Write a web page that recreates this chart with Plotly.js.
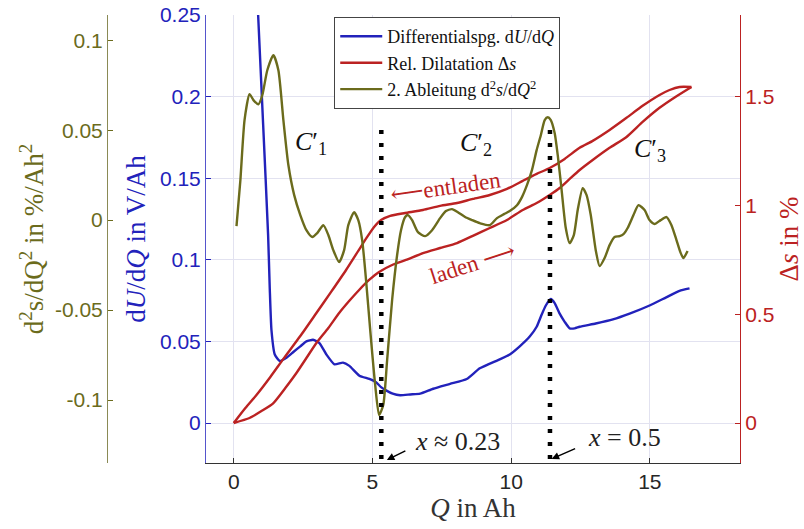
<!DOCTYPE html>
<html><head><meta charset="utf-8">
<script src="https://cdn.plot.ly/plotly-3.0.1.min.js"></script>
<style>html,body{margin:0;padding:0;background:#fff}</style>
</head><body><div id="chart" style="width:804px;height:529px"></div>
<script>
// Differentialspannung dU/dQ (V/Ah)
const Q_dUdQ = [0.70,0.88,1.06,1.24,1.30,1.36,1.48,1.66,1.90,2.15,2.40,2.62,2.86,3.09,3.34,3.63,3.94,4.17,4.53,4.89,5.13,5.31,5.49,5.73,6.00,6.36,6.72,7.19,7.80,8.40,8.87,9.59,9.95,10.31,10.67,10.92,11.09,11.25,11.43,11.57,11.75,11.93,12.11,12.29,12.47,13.05,13.67,14.27,14.99,15.59,16.07,16.43];
const dUdQ = [0.316,0.250,0.183,0.115,0.082,0.057,0.042,0.038,0.040,0.0435,0.047,0.050,0.051,0.049,0.042,0.036,0.037,0.035,0.029,0.027,0.025,0.022,0.020,0.018,0.017,0.0175,0.018,0.021,0.024,0.027,0.0335,0.039,0.042,0.047,0.053,0.059,0.066,0.072,0.076,0.0735,0.067,0.062,0.058,0.058,0.059,0.061,0.0635,0.067,0.072,0.077,0.081,0.0825];

// Rel. Dilatation Δs (%) – laden (charge) and entladen (discharge)
const Q_laden = [0,0.57,1.00,1.43,1.86,2.26,2.62,2.98,3.41,3.80,4.16,4.52,4.88,5.24,5.71,6.21,6.82,7.44,8.05,8.62,9.23,9.85,10.42,10.92,11.39,11.75,12.11,12.47,12.94,13.55,14.16,14.74,15.35,15.92,16.50];
const s_laden = [0,0.023,0.055,0.092,0.161,0.230,0.299,0.368,0.437,0.506,0.561,0.612,0.658,0.695,0.727,0.750,0.782,0.805,0.828,0.861,0.897,0.934,0.980,1.012,1.049,1.081,1.123,1.164,1.210,1.266,1.316,1.385,1.450,1.500,1.546];
const Q_entladen = [0,0.42,0.82,1.32,1.79,2.40,2.98,3.51,4.05,4.49,4.81,5.06,5.31,5.64,6.18,6.82,7.44,8.05,8.62,9.23,9.85,10.42,10.92,11.39,11.93,12.47,12.94,13.55,14.16,14.74,15.35,15.71,16.07,16.50];
const s_entladen = [0,0.069,0.129,0.212,0.295,0.400,0.506,0.603,0.704,0.792,0.856,0.902,0.934,0.953,0.966,0.980,0.999,1.012,1.031,1.049,1.077,1.114,1.146,1.173,1.215,1.266,1.298,1.348,1.404,1.459,1.509,1.532,1.546,1.546];

// 2. Ableitung d2s/dQ2 (%/Ah^2)
const Q_d2s = [0.10,0.24,0.39,0.57,0.71,0.89,1.03,1.21,1.43,1.61,1.79,1.97,2.18,2.40,2.62,2.83,3.01,3.23,3.41,3.59,3.80,3.98,4.13,4.34,4.49,4.63,4.77,4.92,5.10,5.24,5.39,5.53,5.71,5.89,6.03,6.18,6.28,6.43,6.64,6.90,7.15,7.44,7.65,7.87,8.08,8.34,8.59,8.87,9.23,9.49,9.74,9.95,10.21,10.39,10.57,10.75,10.92,11.07,11.21,11.32,11.43,11.57,11.68,11.82,11.97,12.11,12.26,12.40,12.58,12.72,12.87,13.05,13.19,13.37,13.55,13.73,13.91,14.05,14.20,14.41,14.59,14.81,14.99,15.17,15.39,15.60,15.78,15.96,16.10,16.21,16.36];
const d2s = [-0.0033,0.0222,0.0556,0.0700,0.0667,0.0644,0.0694,0.0833,0.0917,0.0833,0.0556,0.0306,0.0139,0.0028,-0.0056,-0.0094,-0.0072,-0.0028,-0.0083,-0.0167,-0.0233,-0.0167,-0.0028,0.0044,0.0000,-0.0111,-0.0333,-0.0611,-0.0917,-0.1083,-0.1028,-0.0778,-0.0444,-0.0194,-0.0056,0.0017,0.0028,0.0000,-0.0067,-0.0089,-0.0056,0.0011,0.0050,0.0061,0.0044,0.0017,0.0000,-0.0017,-0.0028,0.0011,0.0033,0.0050,0.0083,0.0128,0.0194,0.0278,0.0389,0.0472,0.0556,0.0572,0.0556,0.0483,0.0361,0.0167,-0.0044,-0.0128,-0.0083,0.0056,0.0178,0.0139,0.0028,-0.0167,-0.0256,-0.0211,-0.0139,-0.0094,-0.0089,-0.0078,-0.0044,0.0028,0.0083,0.0056,0.0000,-0.0022,0.0000,0.0017,-0.0028,-0.0111,-0.0178,-0.0211,-0.0172];

// marked states of charge
const markQ = [5.32, 11.40];
const markLabels = ['<i>x</i> ≈ 0.23', '<i>x</i> = 0.5'];

// tick labels
const xTicks = [0, 5, 10, 15];
const blueTicks = [0, 0.05, 0.1, 0.15, 0.2, 0.25];
const blueTickText = ['0','0.05','0.1','0.15','0.2','0.25'];
const redTicks = [0, 0.5, 1, 1.5];
const redTickText = ['0','0.5','1','1.5'];
const oliveTicks = [-0.1, -0.05, 0, 0.05, 0.1];
const oliveTickText = ['-0.1','-0.05','0','0.05','0.1'];

const BLUE = '#2222bb', RED = '#bb2222', OLIVE = '#6b6b1c', GRID = '#e2e2f0';
const SERIF = 'Liberation Serif, DejaVu Serif, Times New Roman, serif';
const SANS = 'Liberation Sans, Arial, sans-serif';

const traces = [
  {x: Q_dUdQ, y: dUdQ, type: 'scatter', mode: 'lines', yaxis: 'y',
   name: 'Differentialspg. d<i>U</i>/d<i>Q</i>', line: {color: BLUE, width: 2.4, shape: 'spline', smoothing: 0.5}, hoverinfo: 'skip'},
  {x: Q_laden, y: s_laden, type: 'scatter', mode: 'lines', yaxis: 'y2', legendgroup: 'ds',
   name: 'Rel. Dilatation Δ<i>s</i>', line: {color: RED, width: 2.4, shape: 'spline', smoothing: 0.6}, hoverinfo: 'skip'},
  {x: Q_entladen, y: s_entladen, type: 'scatter', mode: 'lines', yaxis: 'y2', legendgroup: 'ds', showlegend: false,
   name: 'Rel. Dilatation Δ<i>s</i> (entladen)', line: {color: RED, width: 2.4, shape: 'spline', smoothing: 0.6}, hoverinfo: 'skip'},
  {x: Q_d2s, y: d2s, type: 'scatter', mode: 'lines', yaxis: 'y3',
   name: '2. Ableitung d<sup>2</sup><i>s</i>/d<i>Q</i><sup>2</sup>', line: {color: OLIVE, width: 2.4, shape: 'spline', smoothing: 0.6}, hoverinfo: 'skip'}
];

const shapes = markQ.map(q => ({type: 'line', xref: 'x', yref: 'paper', x0: q, x1: q, y0: 0.009, y1: 0.75,
  line: {color: '#000', width: 4.5, dash: '4px,9px'}}));

const annFont = {family: SERIF, size: 26, color: '#111'};
const annotations = [
  {x: 2.79, y: 0.1716, xref: 'x', yref: 'y', text: '<i>C</i>′<sub>1</sub>', showarrow: false, font: annFont},
  {x: 8.73, y: 0.171, xref: 'x', yref: 'y', text: '<i>C</i>′<sub>2</sub>', showarrow: false, font: annFont},
  {x: 14.99, y: 0.1673, xref: 'x', yref: 'y', text: '<i>C</i>′<sub>3</sub>', showarrow: false, font: annFont},
  {x: 7.62, y: 0.1446, xref: 'x', yref: 'y', text: '⟵entladen', textangle: -8, showarrow: false, font: {family: SERIF, size: 23, color: RED}},
  {x: 8.62, y: 0.098, xref: 'x', yref: 'y', text: 'laden ⟶', textangle: -18, showarrow: false, font: {family: SERIF, size: 23, color: RED}},
  {x: 8.05, y: -0.0115, xref: 'x', yref: 'y', text: markLabels[0], showarrow: false, font: {family: SERIF, size: 26, color: '#222'}},
  {x: 14.1, y: -0.0086, xref: 'x', yref: 'y', text: markLabels[1], showarrow: false, font: {family: SERIF, size: 26, color: '#222'}},
  {x: markQ[0] + 0.2, y: -0.0227, xref: 'x', yref: 'y', text: '', showarrow: true, ax: 20, ay: -10,
   arrowhead: 2, arrowsize: 1, arrowwidth: 1.5, arrowcolor: '#000'},
  {x: markQ[1] + 0.06, y: -0.022, xref: 'x', yref: 'y', text: '', showarrow: true, ax: 25, ay: -11,
   arrowhead: 2, arrowsize: 1, arrowwidth: 1.5, arrowcolor: '#000'}
];

const layout = {
  width: 804, height: 529,
  margin: {l: 100, r: 64, t: 15, b: 66},
  paper_bgcolor: '#fff', plot_bgcolor: '#fff',
  showlegend: true,
  legend: {x: 0.366, y: 0.79, xanchor: 'left', yanchor: 'bottom', bgcolor: '#fff', bordercolor: '#444', borderwidth: 1,
    itemwidth: 42, tracegroupgap: 0,
    font: {family: SERIF, size: 18, color: '#111'}},
  xaxis: {domain: [0.1656, 1], range: [-1, 18.25], tickvals: xTicks, ticks: 'inside', ticklen: 5, tickcolor: '#333',
    showline: true, linecolor: '#333', linewidth: 1, showgrid: true, gridcolor: GRID, zeroline: false,
    tickfont: {family: SANS, size: 21, color: '#262626'},
    title: {text: '<i>Q</i> in Ah', font: {family: SERIF, size: 27, color: '#333'}, standoff: 4}},
  yaxis: {range: [-0.0245, 0.25], tickvals: blueTicks, ticktext: blueTickText, ticks: 'inside', ticklen: 5, tickcolor: BLUE,
    showline: true, linecolor: '#5555cc', linewidth: 1, showgrid: true, gridcolor: GRID, zeroline: false, anchor: 'x',
    tickfont: {family: SANS, size: 21, color: BLUE},
    title: {text: 'd<i>U</i>/d<i>Q</i> in V/Ah', font: {family: SERIF, size: 27, color: BLUE}, standoff: 6}},
  yaxis2: {range: [-0.184, 1.877], tickvals: redTicks, ticktext: redTickText, overlaying: 'y', side: 'right', anchor: 'x',
    ticks: 'inside', ticklen: 5, tickcolor: RED, showline: true, linecolor: RED, linewidth: 1, showgrid: false, zeroline: false,
    tickfont: {family: SANS, size: 21, color: RED},
    title: {text: 'Δ<i>s</i> in %', font: {family: SERIF, size: 27, color: RED}, standoff: 10}},
  yaxis3: {range: [-0.135, 0.114], tickvals: oliveTicks, ticktext: oliveTickText, overlaying: 'y', side: 'left',
    anchor: 'free', position: 0.0109, ticks: 'inside', ticklen: 5, tickcolor: OLIVE, showline: true, linecolor: '#8a8a55',
    linewidth: 1, showgrid: false, zeroline: false,
    tickfont: {family: SANS, size: 21, color: OLIVE},
    title: {text: 'd<sup>2</sup>s/dQ<sup>2</sup> in %/Ah<sup>2</sup>', font: {family: SERIF, size: 27, color: OLIVE}, standoff: 2}},
  shapes: shapes,
  annotations: annotations
};

Plotly.newPlot('chart', traces, layout, {staticPlot: true, displayModeBar: false});
</script></body></html>
